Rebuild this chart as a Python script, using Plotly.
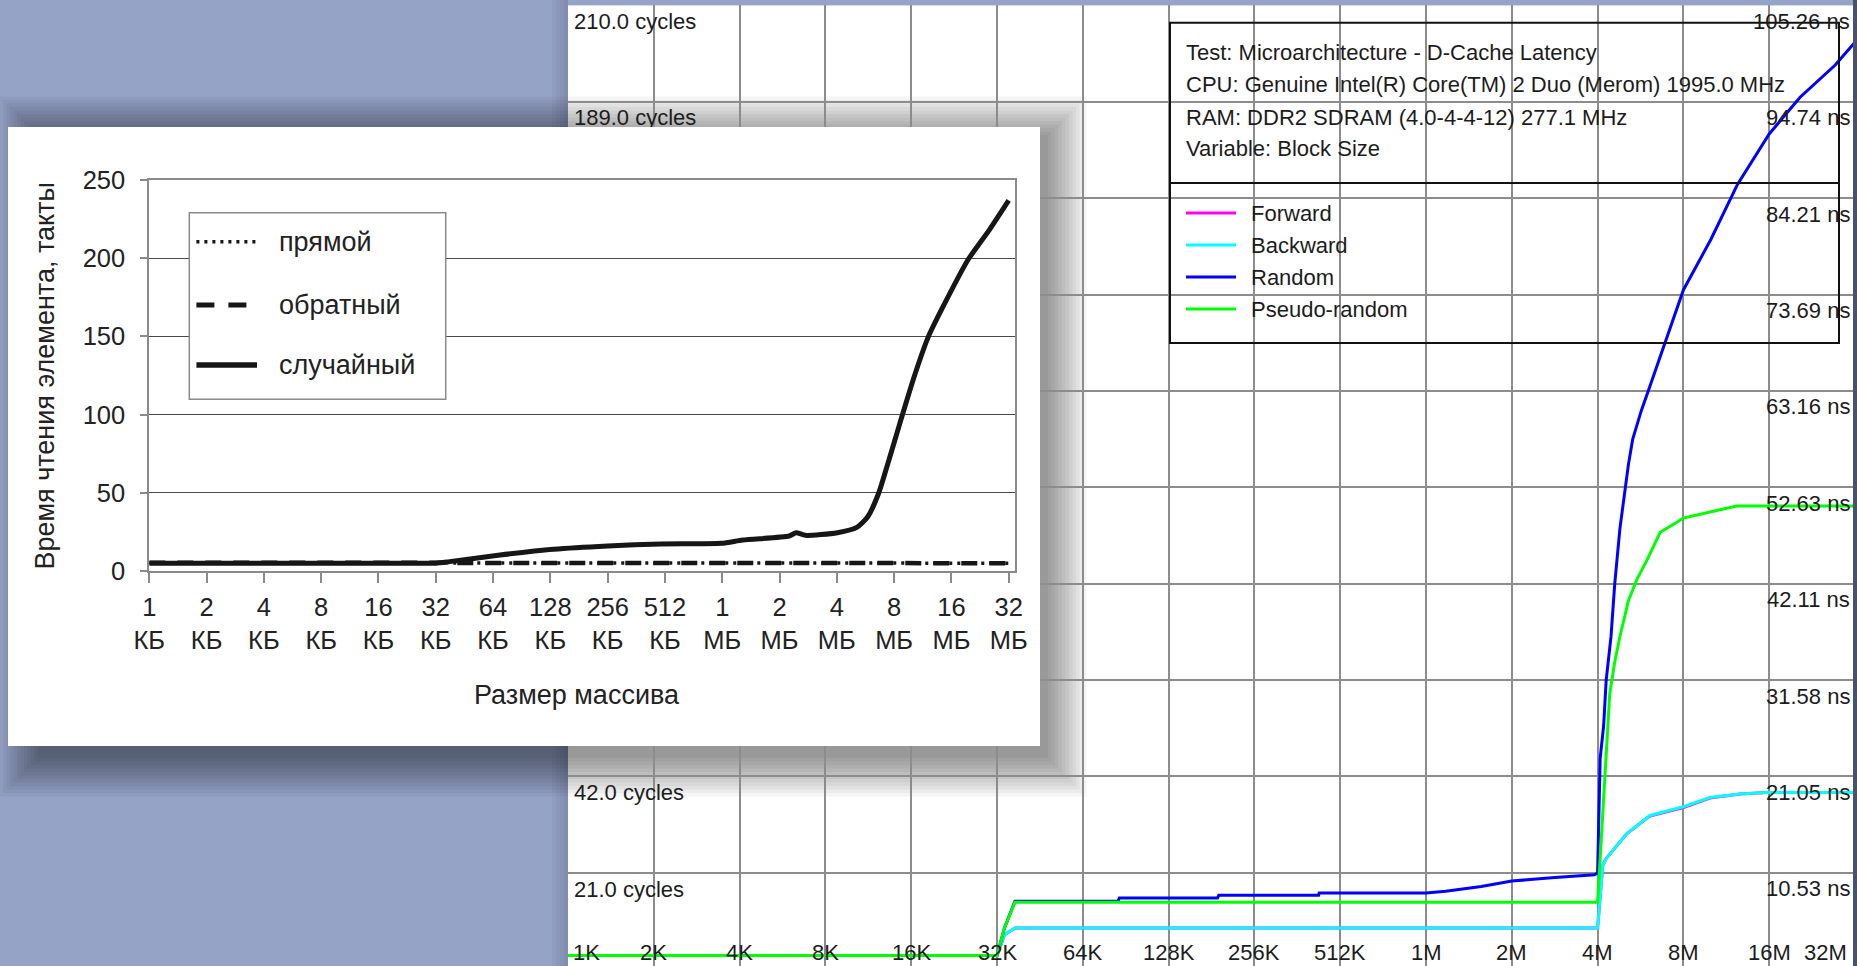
import math
import plotly.graph_objects as go

W, H = 1857, 966

# ---------------- right chart: RightMark D-Cache latency (cycles) ----------------
block_ticks_kb = [1, 2, 4, 8, 16, 32, 64, 128, 256, 512, 1024, 2048, 4096, 8192, 16384, 32768]
block_tick_labels = ["1K", "2K", "4K", "8K", "16K", "32K", "64K", "128K", "256K", "512K",
                     "1M", "2M", "4M", "8M", "16M", "32M"]
cycle_ticks = [21, 42, 63, 84, 105, 126, 147, 168, 189, 210]
# left labels 63..168 are hidden behind the inset in the original
cycle_tick_labels = ["21.0 cycles", "42.0 cycles", "", "", "", "", "", "", "189.0 cycles",
                     "210.0 cycles"]
ns_tick_labels = ["10.53 ns", "21.05 ns", "31.58 ns", "42.11 ns", "52.63 ns", "63.16 ns",
                  "73.69 ns", "84.21 ns", "94.74 ns", "105.26 ns"]
series_names = ["Forward", "Backward", "Random", "Pseudo-random"]
series_colors = ["#ff00ff", "#00ffff", "#0000ff", "#00ff00"]

fw_kb = [1, 32, 34, 37, 4096, 4151, 4270, 4390, 5180, 6250, 8192, 10150, 12940, 16050, 32768]
fw_cycles = [3, 3, 7.5, 9, 9, 13.2, 22.6, 24.1, 29.5, 33.4, 35.2, 37.3, 38.2, 38.5, 38.5]
bw_kb = [1, 32, 34, 37, 4096, 4151, 4270, 4390, 5180, 6250, 8192, 10150, 12940, 16050, 32768]
bw_cycles = [3, 3, 7.5, 9, 9, 13.2, 22.6, 24.1, 29.5, 33.5, 35.4, 37.4, 38.2, 38.5, 38.5]
rnd_kb = [1, 32, 34, 37, 85, 86, 190, 192, 430, 432, 1024, 1200, 1600, 2048, 2900, 4000,
          4096, 4182, 4300, 4390, 4565, 4705, 4905, 5110, 5255, 5440, 5830, 6250, 6935, 7800,
          8192, 10225, 12680, 16384, 21030, 27930, 32768]
rnd_cycles = [3, 3, 9, 14.8, 14.8, 15.5, 15.5, 16.1, 16.1, 16.6, 16.6, 17.0, 18.0, 19.2, 20.0, 20.6,
              21.0, 46, 53, 63, 72.5, 84, 96, 104, 110, 115.5, 121.7, 127, 135, 144.0,
              148.0, 159, 171, 182, 190, 197, 202]
prnd_kb = [1, 32, 34, 37, 4096, 4182, 4360, 4518, 4705, 4905, 5255, 5634, 6080, 6793, 7643,
           8192, 10440, 12590, 32768]
prnd_cycles = [3, 3, 9, 14.6, 14.6, 24, 45, 60, 67, 72.5, 80.3, 85, 88.9, 95.2, 97.1,
               98.3, 99.8, 100.9, 100.9]

info_lines = ["Test: Microarchitecture - D-Cache Latency",
              "CPU: Genuine Intel(R) Core(TM) 2 Duo (Merom) 1995.0 MHz",
              "RAM: DDR2 SDRAM (4.0-4-4-12) 277.1 MHz",
              "Variable: Block Size"]

# ---------------- inset chart (Russian) ----------------
inset_kb = [1, 2, 4, 8, 16, 32, 64, 128, 256, 512, 1024, 2048, 4096, 8192, 16384, 32768]
inset_num_labels = ["1", "2", "4", "8", "16", "32", "64", "128", "256", "512",
                    "1", "2", "4", "8", "16", "32"]
inset_unit_labels = ["КБ"] * 10 + ["МБ"] * 6
inset_fwd = [5.3, 5.3, 5, 5, 5, 5, 5, 5, 5, 5, 5, 5, 5, 5, 5, 5]
inset_bwd = [5.3, 5.3, 5, 5, 5, 5, 5, 5, 5, 5, 5, 5, 5, 5, 5, 5]
inset_rnd_kb = [1, 2, 4, 8, 16, 32, 37.8, 69.6, 133, 256, 488, 1017, 1314, 2304, 2504, 2798,
                4124, 5220, 5955, 6793, 7695, 8780, 10440, 12417, 15390, 20030, 25880, 32768]
inset_rnd = [5, 5, 5, 5, 5, 5, 6, 10.2, 13.9, 16, 17.3, 17.7, 19.8, 22.4, 24.5, 22.8,
             24.5, 27.9, 34.7, 49.7, 71, 94.4, 124.2, 150, 173, 199, 218, 237]
inset_names = ["прямой", "обратный", "случайный"]
inset_y_title = "Время чтения элемента, такты"
inset_x_title = "Размер массива"


def X(p):
    return p / W


def Y(p):
    return 1 - p / H


SANS = "Liberation Sans, Arial, sans-serif"
BG = "#95a3c7"
RFONT = 22
IFONT = 27
ITICK = 25.5

fig = go.Figure()

# right chart traces
for kb, cyc, name, col in [(fw_kb, fw_cycles, series_names[0], series_colors[0]),
                           (bw_kb, bw_cycles, series_names[1], series_colors[1]),
                           (rnd_kb, rnd_cycles, series_names[2], series_colors[2]),
                           (prnd_kb, prnd_cycles, series_names[3], series_colors[3])]:
    fig.add_trace(go.Scatter(x=kb, y=cyc, mode="lines", name=name,
                             line=dict(color=col, width=3), showlegend=False,
                             xaxis="x", yaxis="y"))

# white panel subplot (empty)
fig.add_trace(go.Scatter(x=[], y=[], xaxis="x2", yaxis="y2", showlegend=False))

# inset traces
fig.add_trace(go.Scatter(x=inset_rnd_kb, y=inset_rnd, mode="lines", name=inset_names[2],
                         line=dict(color="#161616", width=5, shape="spline", smoothing=0.6),
                         showlegend=False, xaxis="x3", yaxis="y3"))
fig.add_trace(go.Scatter(x=inset_kb, y=inset_bwd, mode="lines", name=inset_names[1],
                         line=dict(color="#161616", width=4.5, dash="16px,12px"),
                         showlegend=False, xaxis="x3", yaxis="y3"))
fig.add_trace(go.Scatter(x=inset_kb, y=inset_fwd, mode="lines", name=inset_names[0],
                         line=dict(color="#161616", width=3.5, dash="3px,5px"),
                         showlegend=False, xaxis="x3", yaxis="y3"))

GRID = "#8c8c8c"
fig.update_layout(
    width=W, height=H,
    margin=dict(l=0, r=0, t=0, b=0, pad=0, autoexpand=False),
    paper_bgcolor=BG, plot_bgcolor="white",
    showlegend=False,
    xaxis=dict(domain=[X(568), X(1855)], anchor="y", type="log", range=[0, math.log10(32768)],
               tickvals=block_ticks_kb, showticklabels=False, ticks="",
               showgrid=True, gridcolor=GRID, gridwidth=2, zeroline=False, showline=False,
               automargin=False),
    yaxis=dict(domain=[0, Y(5.4)], anchor="x", range=[0.7, 210], tickvals=cycle_ticks,
               ticktext=cycle_tick_labels,
               ticklabelposition="inside", ticklabelshift=16, ticklabelstandoff=3,
               ticklabeloverflow="allow", ticks="",
               tickfont=dict(family=SANS, size=RFONT, color="#1c1c1c"),
               showgrid=True, gridcolor=GRID, gridwidth=2, zeroline=False, showline=False,
               automargin=False),
    xaxis2=dict(domain=[X(8), X(1040)], anchor="y2", visible=False, range=[0, 1],
                automargin=False),
    yaxis2=dict(domain=[Y(746), Y(127)], anchor="x2", visible=False, range=[0, 1],
                automargin=False),
    xaxis3=dict(domain=[X(149.3), X(1015)], anchor="y3", type="log",
                range=[0, 15.11 * math.log10(2)],
                tickvals=inset_kb,
                ticktext=[f"{n}<br>{u}" for n, u in zip(inset_num_labels, inset_unit_labels)],
                ticks="outside", ticklen=10, tickwidth=1.5, tickcolor="#8a8a8a",
                ticklabelstandoff=2,
                tickfont=dict(family=SANS, size=ITICK, color="#222222"),
                showgrid=False, zeroline=False, showline=True, mirror=True,
                linecolor="#8a8a8a", linewidth=2, automargin=False),
    yaxis3=dict(domain=[Y(571), Y(180)], anchor="x3", range=[0, 250], dtick=50,
                ticks="outside", ticklen=7, tickwidth=1.5, tickcolor="#8a8a8a",
                ticklabelstandoff=10,
                tickfont=dict(family=SANS, size=ITICK, color="#222222"),
                showgrid=True, gridcolor="#4a4a4a", gridwidth=1, zeroline=False,
                showline=True, mirror=True, linecolor="#8a8a8a", linewidth=2,
                automargin=False),
)

shapes = []
# soft shadow of the inset panel
bx0, by0, bx1, by1 = 38, 135, 1048, 758
for k in range(12):
    r = k * 3.5
    shapes.append(dict(type="rect", xref="paper", yref="paper", layer="below",
                       x0=X(bx0 - r), x1=X(bx1 + r), y0=Y(by1 + r), y1=Y(by0 - r),
                       fillcolor="rgba(0,0,0,0.038)", line=dict(width=0)))
# faint shade left of the right chart
for k in range(4):
    shapes.append(dict(type="rect", xref="paper", yref="paper", layer="below",
                       x0=X(552 + 4 * k), x1=X(568), y0=0, y1=1,
                       fillcolor="rgba(0,0,30,0.03)", line=dict(width=0)))
# dark strip on right edge
shapes.append(dict(type="rect", xref="paper", yref="paper", layer="above",
                   x0=X(1853), x1=1, y0=0, y1=1, fillcolor="#4a526b", line=dict(width=0)))

# right-chart info/legend box
shapes.append(dict(type="rect", xref="paper", yref="paper", layer="above",
                   x0=X(1170), x1=X(1839), y0=Y(343), y1=Y(22.7),
                   fillcolor="rgba(0,0,0,0)", line=dict(color="#111111", width=2)))
shapes.append(dict(type="line", xref="paper", yref="paper", layer="above",
                   x0=X(1170), x1=X(1839), y0=Y(183), y1=Y(183),
                   line=dict(color="#111111", width=2)))
legend_rows = [213, 245, 277, 309]
for row, col in zip(legend_rows, series_colors):
    shapes.append(dict(type="line", xref="paper", yref="paper", layer="above",
                       x0=X(1186), x1=X(1236), y0=Y(row), y1=Y(row),
                       line=dict(color=col, width=3)))

# inset legend box
shapes.append(dict(type="rect", xref="paper", yref="paper", layer="above",
                   x0=X(189.3), x1=X(445.7), y0=Y(399.3), y1=Y(212.7),
                   fillcolor="white", line=dict(color="#8a8a8a", width=1.5)))
inset_leg_rows = [241.7, 305, 365]
inset_leg_styles = [dict(width=3.5, dash="3px,5px"), dict(width=5, dash="18px,14px"),
                    dict(width=5.5, dash="solid")]
for row, st in zip(inset_leg_rows, inset_leg_styles):
    shapes.append(dict(type="line", xref="paper", yref="paper", layer="above",
                       x0=X(196.4), x1=X(257), y0=Y(row), y1=Y(row),
                       line=dict(color="#161616", **st)))

annotations = []
# right chart x labels
for i, (kb, lab) in enumerate(zip(block_ticks_kb, block_tick_labels)):
    anchor, shift = "center", 0
    if i == 0:
        anchor, shift = "left", 3
    elif i == len(block_ticks_kb) - 1:
        anchor, shift = "right", -6
    annotations.append(dict(x=math.log10(kb), xref="x", y=Y(952), yref="paper",
                            text=lab, showarrow=False, xanchor=anchor, yanchor="middle",
                            xshift=shift, font=dict(family=SANS, size=RFONT, color="#1c1c1c")))
# right chart ns labels
for v, lab in zip(cycle_ticks, ns_tick_labels):
    annotations.append(dict(x=X(1852), xref="paper", y=v, yref="y", yshift=-16,
                            text=lab, showarrow=False, xanchor="right", yanchor="middle",
                            font=dict(family=SANS, size=RFONT, color="#1c1c1c")))
# info lines
for row, line in zip([53, 85, 117, 148], info_lines):
    annotations.append(dict(x=X(1184), xref="paper", y=Y(row), yref="paper", text=line,
                            showarrow=False, xanchor="left", yanchor="middle",
                            font=dict(family=SANS, size=RFONT, color="#1c1c1c")))
for row, name in zip(legend_rows, series_names):
    annotations.append(dict(x=X(1249), xref="paper", y=Y(row), yref="paper", text=name,
                            showarrow=False, xanchor="left", yanchor="middle",
                            font=dict(family=SANS, size=RFONT, color="#1c1c1c")))
# inset legend text
for row, name in zip(inset_leg_rows, inset_names):
    annotations.append(dict(x=X(276.8), xref="paper", y=Y(row), yref="paper", text=name,
                            showarrow=False, xanchor="left", yanchor="middle",
                            font=dict(family=SANS, size=IFONT, color="#222222")))
# inset titles
annotations.append(dict(x=X(45), xref="paper", y=Y(376.6), yref="paper", text=inset_y_title,
                        textangle=-90, showarrow=False, xanchor="center", yanchor="middle",
                        font=dict(family=SANS, size=IFONT, color="#222222")))
annotations.append(dict(x=X(577), xref="paper", y=Y(695), yref="paper", text=inset_x_title,
                        showarrow=False, xanchor="center", yanchor="middle",
                        font=dict(family=SANS, size=IFONT, color="#222222")))

fig.update_layout(shapes=shapes, annotations=annotations)
fig.write_html(
    "out.html",
    config={"displayModeBar": False},
    post_script="document.body.style.margin='0';document.body.style.padding='0';"
                "document.body.style.overflow='hidden';",
)
